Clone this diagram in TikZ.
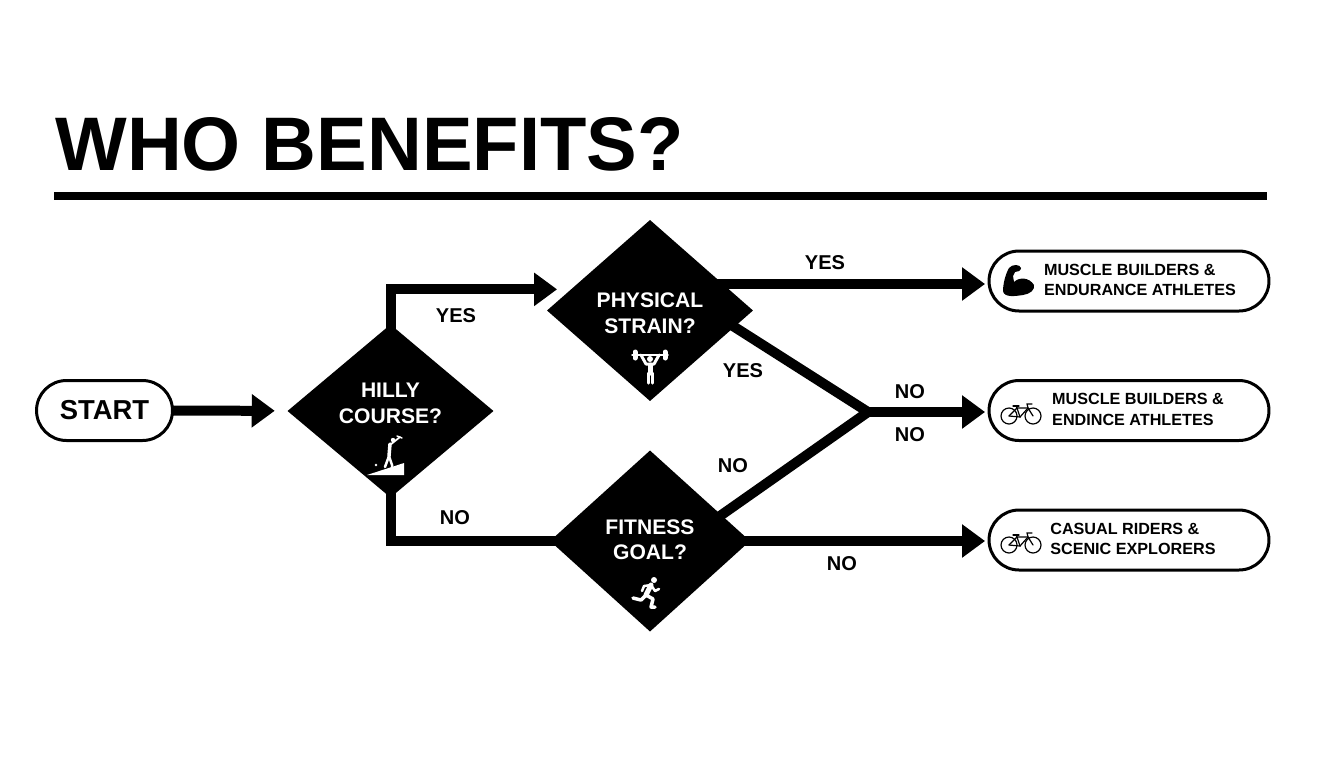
\documentclass[tikz,border=0pt]{standalone}
\usepackage{fontspec}
\setmainfont{Liberation Sans}
\usetikzlibrary{shapes.geometric,shapes.misc,arrows.meta}
\newcommand{\fsize}[1]{\bfseries\fontsize{#1}{#1}\selectfont}
% two lines of a node, lifted or pushed along
\newcommand{\qlines}[3]{\raisebox{#1}[0pt][0pt]{\begin{tabular}{@{}c@{}}#2\\#3\end{tabular}}}
\newcommand{\plines}[3]{\hspace*{#1}\raisebox{-2.6pt}[0pt][0pt]{\begin{tabular}{@{}l@{}}#2\\#3\end{tabular}}}
\tikzset{%
  decision/.style = {diamond, fill=black, text=white, inner sep=0pt, outer sep=0pt,
    font=\fsize{12}\renewcommand{\arraystretch}{1.22}},
  outcome/.style  = {rounded rectangle, draw, line width=0.06cm, inner sep=0pt, outer sep=0pt,
    minimum width=5.6cm, minimum height=1.2cm,
    font=\fsize{9.2}\renewcommand{\arraystretch}{1.27}},
  startnode/.style = {rounded rectangle, draw, line width=0.06cm, inner sep=0pt, outer sep=0pt,
    minimum width=2.72cm, minimum height=1.2cm, font=\fsize{15.6}},
  answer/.style   = {inner sep=0pt, font=\fsize{11.4}},
  flow/.style     = {line width=0.2cm, draw=black},
  flowarrow/.style = {flow, -{Triangle[length=0.46cm,width=0.64cm]}},
  tuck/.style     = {shorten <=-0.2cm}, % start the line inside the diamond
  thinline/.style = {line width=0.024cm, line cap=round},
  bikeicon/.pic = {
    \draw[thinline] (-12,0) circle[radius=8];
    \draw[thinline] (12,0) circle[radius=8];
    \draw[thinline] (-12,0) -- (-1,1) -- (-4,-8) -- (7,-8) -- (12,0);
    \draw[thinline] (-12,0) -- (-4,-8);
    \draw[thinline] (-1,1) -- (7,-8);
    \draw[thinline] (-4,-8) -- (-5,-10);
    \draw[thinline] (-8,-10) -- (-2,-10);
    \draw[thinline] (7,-8) -- (6,-12) -- (11,-12);
  },
  muscleicon/.pic = {
    \fill (-15,10) .. controls (-15,2) and (-12,-8) .. (-9,-13)
      .. controls (-6,-17) and (2,-17) .. (3,-13)
      .. controls (3,-10) and (-1,-9) .. (-3,-9)
      -- (-5,-5) -- (-4,1)
      .. controls (1,-4) and (11,-4) .. (16,4)
      .. controls (17,9) and (12,13) .. (5,14)
      .. controls (-2,15) and (-14,17) .. (-15,10) -- cycle;
  },
  lineicon/.style = {draw=white, line cap=round, line join=round},
  lifticon/.pic = {
    \draw[lineicon, line width=0.03cm] (-18,0) -- (18,0);
    \draw[lineicon, line width=0.1cm] (-15,-3) -- (-15,3);
    \draw[lineicon, line width=0.1cm] (15,-3) -- (15,3);
    \draw[lineicon, line width=0.06cm] (-9,0) -- (-4,9) -- (4,9) -- (9,0);
    \fill[white] (0,4) circle[radius=3];
    \draw[lineicon, line width=0.1cm] (0,10) -- (0,18);
    \draw[lineicon, line width=0.06cm] (-2,18) -- (-2,28);
    \draw[lineicon, line width=0.06cm] (2,18) -- (2,28);
  },
  runicon/.pic = {
    \fill[white] (7,-12) circle[radius=3];
    \draw[lineicon, line width=0.1cm] (4,-7) -- (-1,3);
    \draw[lineicon, line width=0.05cm] (4,-7) -- (8,-1) -- (12,-3);
    \draw[lineicon, line width=0.05cm] (4,-7) -- (-3,-6) -- (-5,-1);
    \draw[lineicon, line width=0.07cm] (-1,3) -- (6,7) -- (4,15) -- (8,15);
    \draw[lineicon, line width=0.07cm] (-1,3) -- (-6,8) -- (-14,6);
  },
  hillicon/.pic = {
    \fill[white] (-21,16) -- (16,4) -- (16,16) -- cycle;
    \fill[white] (5,-19) circle[radius=2.2];
    \draw[lineicon, line width=0.07cm] (2,-15) -- (1,-3);
    \draw[lineicon, line width=0.05cm] (1,-3) -- (-3,8);
    \draw[lineicon, line width=0.05cm] (1,-3) -- (4,6) -- (4,9);
    \draw[lineicon, line width=0.035cm] (2,-14) -- (12,-22);
    \draw[lineicon, line width=0.03cm] (9,-23) -- (14,-21);
    \fill[white] (-12,6) circle[radius=1.3];
  }
}
\begin{document}
\begin{tikzpicture}[x=0.02cm, y=-0.02cm]
\useasboundingbox (0,0) rectangle (1344,768);

\node[anchor=base west, inner sep=0pt, font=\fsize{43.2}] (title) at (55,170) {WHO BENEFITS?};
\draw[line width=0.16cm] (54,196) -- (1267,196);

\node[startnode] (start) at (104.5,410.5) {START};

\node[decision, minimum width=4.12cm, minimum height=3.46cm] (hilly) at (390.5,411)
  {\qlines{0.2pt}{HILLY}{COURSE?}};
\node[decision, minimum width=4.12cm, minimum height=3.62cm] (physical) at (650,310.5)
  {\qlines{-5.9pt}{PHYSICAL}{STRAIN?}};
\node[decision, minimum width=4cm, minimum height=3.62cm] (fitness) at (650,541)
  {\qlines{-3.4pt}{FITNESS}{GOAL?}};

\node[outcome] (builders) at (1129,281) {\plines{12.5pt}{MUSCLE BUILDERS \&}{ENDURANCE ATHLETES}};
\node[outcome] (endince) at (1129,410.5) {\plines{10.2pt}{MUSCLE BUILDERS \&}{ENDINCE ATHLETES}};
\node[outcome] (casual) at (1129,540) {\plines{4.5pt}{CASUAL RIDERS \&}{SCENIC EXPLORERS}};

\coordinate (merge) at (868,412);

\draw[flowarrow, shorten >=0.26cm] (start) -- (hilly);
\draw[flowarrow, tuck, shorten >=0.28cm] (hilly.north) |- (physical.165);
\draw[flow, tuck, shorten >=-0.2cm] (hilly.south) |- (fitness.west);
\draw[flowarrow, tuck, shorten >=0.08cm] (physical.20) -- (physical.20 -| builders.west);
\draw[flow, tuck, shorten >=-0.2cm, line join=miter] (physical.-11) -- (merge) -- (fitness.20);
\draw[flowarrow, shorten >=0.08cm] (merge) -- (merge -| endince.west);
\draw[flowarrow, tuck, shorten >=0.08cm] (fitness.east) -- (fitness.east -| casual.west);

\node[answer] (yesone) at (456,316) {YES};
\node[answer] (yestwo) at (825,263) {YES};
\node[answer] (yesthree) at (743,371) {YES};
\node[answer] (noone) at (910,392) {NO};
\node[answer] (notwo) at (910,435) {NO};
\node[answer] (nothree) at (733,466) {NO};
\node[answer] (nofour) at (455,518) {NO};
\node[answer] (nofive) at (842,564) {NO};

\pic at (388,459) {hillicon};
\pic at (650,355) {lifticon};
\pic at (647,592) {runicon};
\pic at (1018,281) {muscleicon};
\pic at (1021,416) {bikeicon};
\pic at (1021,545) {bikeicon};
\end{tikzpicture}
\end{document}
